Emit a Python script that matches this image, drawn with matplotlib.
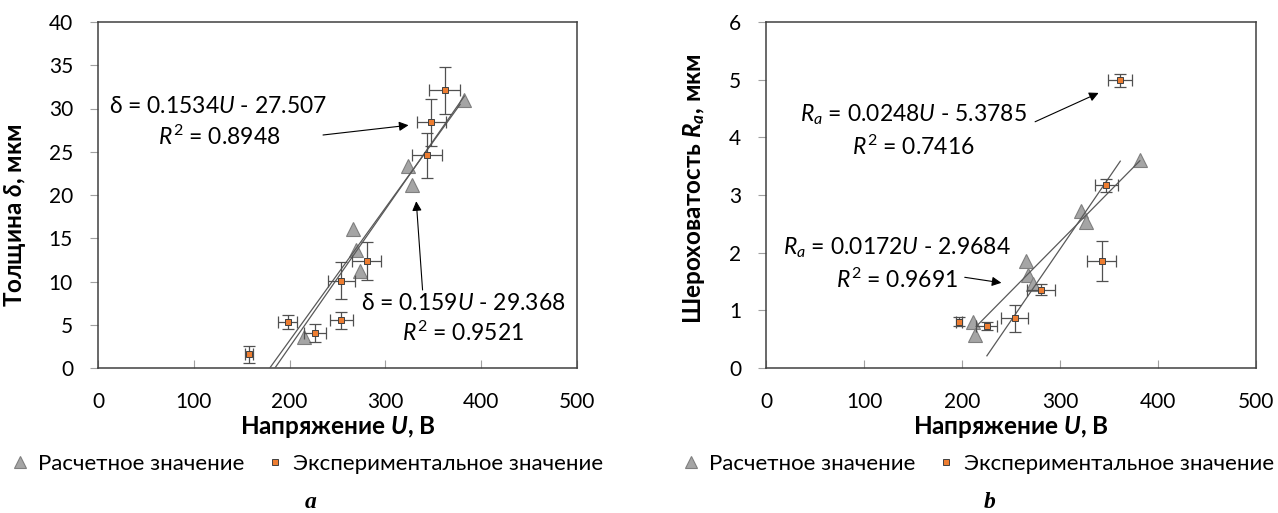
import numpy as np
import matplotlib
matplotlib.use("Agg")
import matplotlib.pyplot as plt

plt.rcParams['font.family'] = ['Lato', 'DejaVu Sans']
plt.rcParams['mathtext.fontset'] = 'custom'
plt.rcParams['mathtext.rm'] = 'Lato'
plt.rcParams['mathtext.it'] = 'Lato:italic'
plt.rcParams['mathtext.bf'] = 'Lato:bold:italic'

# -------- data, panel a (thickness) --------
u_calc_a = [214.7, 266.5, 269.0, 273.5, 323.3, 327.4, 382.4]
d_calc = [3.6, 16.1, 13.6, 11.25, 23.4, 21.2, 31.0]
u_exp_a = [157.6, 198.0, 226.5, 254.0, 254.0, 280.4, 343.1, 347.9, 361.9]
d_exp = [1.6, 5.35, 4.05, 5.5, 10.1, 12.4, 24.6, 28.4, 32.1]
d_err = [1.0, 0.8, 1.0, 1.0, 2.1, 2.2, 2.6, 2.7, 2.7]
u_err_a = [4.3, 10.0, 11.8, 11.8, 14.4, 15.0, 15.6, 14.9, 16.0]
fit_exp_a = (0.1534, -27.507)
fit_calc_a = (0.159, -29.368)
fit_exp_a_range = [179.3, 378.0]
fit_calc_a_range = [184.7, 382.4]

# -------- data, panel b (roughness) --------
u_calc_b = [211.1, 213.1, 265.5, 267.8, 272.2, 321.8, 326.9, 381.5]
ra_calc = [0.79, 0.57, 1.86, 1.62, 1.45, 2.72, 2.54, 3.61]
u_exp_b = [197.2, 225.0, 253.6, 280.4, 342.5, 347.3, 361.2]
ra_exp = [0.80, 0.73, 0.86, 1.36, 1.86, 3.17, 4.99]
ra_err = [0.08, 0.07, 0.23, 0.10, 0.35, 0.115, 0.115]
u_err_b = [3.0, 10.5, 13.7, 14.3, 15.1, 11.7, 11.9]
fit_exp_b = (0.0248, -5.3785)
fit_calc_b = (0.0172, -2.9684)
fit_exp_b_range = [225.4, 361.5]
fit_calc_b_range = [214.5, 381.5]

x_ticks = [0, 100, 200, 300, 400, 500]

TRI_FACE = '#A5A5A5'
TRI_EDGE = '#7F7F7F'
SQ_FACE = '#ED7D31'
SQ_EDGE = '#404040'
LINE = '#595959'
FS = 15          # tick labels
FS_EQ = 16.5     # equations
FS_LAB = 17.5    # axis titles
FS_LEG = 16

W, H = 1278, 513
fig = plt.figure(figsize=(W / 100, H / 100), dpi=100)
ax1 = fig.add_axes([98 / W, 1 - 368 / H, 479 / W, 346 / H])
ax2 = fig.add_axes([766 / W, 1 - 368 / H, 490 / W, 346 / H])


def draw_panel(ax, uc, yc, ue, ye, yerr, uerr, fit_e, rng_e, fit_c, rng_c):
    ax.plot(uc, yc, linestyle='none', marker='^', ms=10, mfc=TRI_FACE,
            mec=TRI_EDGE, mew=0.8, zorder=2, label='Расчетное значение')
    for (k, b), rng in ((fit_e, rng_e), (fit_c, rng_c)):
        xs = np.array(rng)
        ax.plot(xs, k * xs + b, color=LINE, lw=0.9, zorder=3)
    ax.errorbar(ue, ye, yerr=yerr, xerr=uerr, fmt='none', ecolor='#505050',
                elinewidth=0.9, capsize=4, capthick=0.9, zorder=4)
    ax.plot(ue, ye, linestyle='none', marker='s', ms=5, mfc=SQ_FACE,
            mec=SQ_EDGE, mew=0.7, zorder=5, label='Экспериментальное значение')
    ax.set_xlim(0, 500)
    ax.set_xticks(x_ticks)
    for s in ax.spines.values():
        s.set_color('#404040')
        s.set_linewidth(1.1)
    ax.tick_params(axis='x', direction='in', length=6, color='#A0A0A0',
                   labelsize=FS, pad=17)
    ax.tick_params(axis='y', direction='out', length=6, color='#A0A0A0',
                   labelsize=FS, pad=12)
    ax.set_xlabel('Напряжение $\\mathbf{U}$, В', fontsize=FS_LAB,
                  fontweight='bold', labelpad=2)


draw_panel(ax1, u_calc_a, d_calc, u_exp_a, d_exp, d_err, u_err_a,
           fit_exp_a, fit_exp_a_range, fit_calc_a, fit_calc_a_range)
draw_panel(ax2, u_calc_b, ra_calc, u_exp_b, ra_exp, ra_err, u_err_b,
           fit_exp_b, fit_exp_b_range, fit_calc_b, fit_calc_b_range)

ax1.set_ylim(0, 40)
ax1.set_yticks(range(0, 41, 5))
ax1.set_ylabel('Толщина $\\mathbf{\\delta}$, мкм', fontsize=FS_LAB,
               fontweight='bold')
ax1.yaxis.set_label_coords(-0.146, 0.44)

ax2.set_ylim(0, 6)
ax2.set_yticks(range(0, 7))
ax2.set_ylabel('Шероховатость $\\mathbf{R_a}$, мкм', fontsize=FS_LAB,
               fontweight='bold')
ax2.yaxis.set_label_coords(-0.120, 0.517)

# equations and arrows
arrow = dict(arrowstyle='-|>', color='black', lw=0.8, mutation_scale=14)
ax1.text(125, 30.2, 'δ = 0.1534$U$ - 27.507', fontsize=FS_EQ, ha='center', va='center')
ax1.text(127, 26.7, '$R^2$ = 0.8948', fontsize=FS_EQ, ha='center', va='center')
ax1.annotate('', xy=(327, 28.1), xytext=(232, 26.9), arrowprops=arrow)
ax1.text(381, 7.5, 'δ = 0.159$U$ - 29.368', fontsize=FS_EQ, ha='center', va='center')
ax1.text(381, 4.05, '$R^2$ = 0.9521', fontsize=FS_EQ, ha='center', va='center')
ax1.annotate('', xy=(332, 19.6), xytext=(339, 8.7), arrowprops=arrow)

ax2.text(150, 4.39, '$R_a$ = 0.0248$U$ - 5.3785', fontsize=FS_EQ, ha='center', va='center')
ax2.text(150, 3.83, '$R^2$ = 0.7416', fontsize=FS_EQ, ha='center', va='center')
ax2.annotate('', xy=(342, 4.79), xytext=(272, 4.25), arrowprops=arrow)
ax2.text(134, 2.08, '$R_a$ = 0.0172$U$ - 2.9684', fontsize=FS_EQ, ha='center', va='center')
ax2.text(134, 1.53, '$R^2$ = 0.9691', fontsize=FS_EQ, ha='center', va='center')
ax2.annotate('', xy=(243, 1.47), xytext=(200, 1.58), arrowprops=arrow)

# legends below each panel
for ax, cx in ((ax1, 307), (ax2, 978)):
    h, l = ax.get_legend_handles_labels()
    leg = ax.legend(h, l, loc='center', bbox_to_anchor=(cx / W, 1 - 464 / H),
                    bbox_transform=fig.transFigure, ncol=2, frameon=False,
                    fontsize=FS_LEG, handlelength=0.8, handletextpad=0.4,
                    columnspacing=1.0, markerscale=1.0)
    leg.legend_handles[0].set_markersize(9)
    leg.legend_handles[1].set_markersize(4)

fig.text(311 / W, 1 - 503 / H, 'a', fontsize=17, fontweight='bold',
         fontstyle='italic', family='Liberation Serif', ha='center', va='center')
fig.text(990 / W, 1 - 503 / H, 'b', fontsize=17, fontweight='bold',
         fontstyle='italic', family='Liberation Serif', ha='center', va='center')

fig.savefig('out.png', dpi=100)
